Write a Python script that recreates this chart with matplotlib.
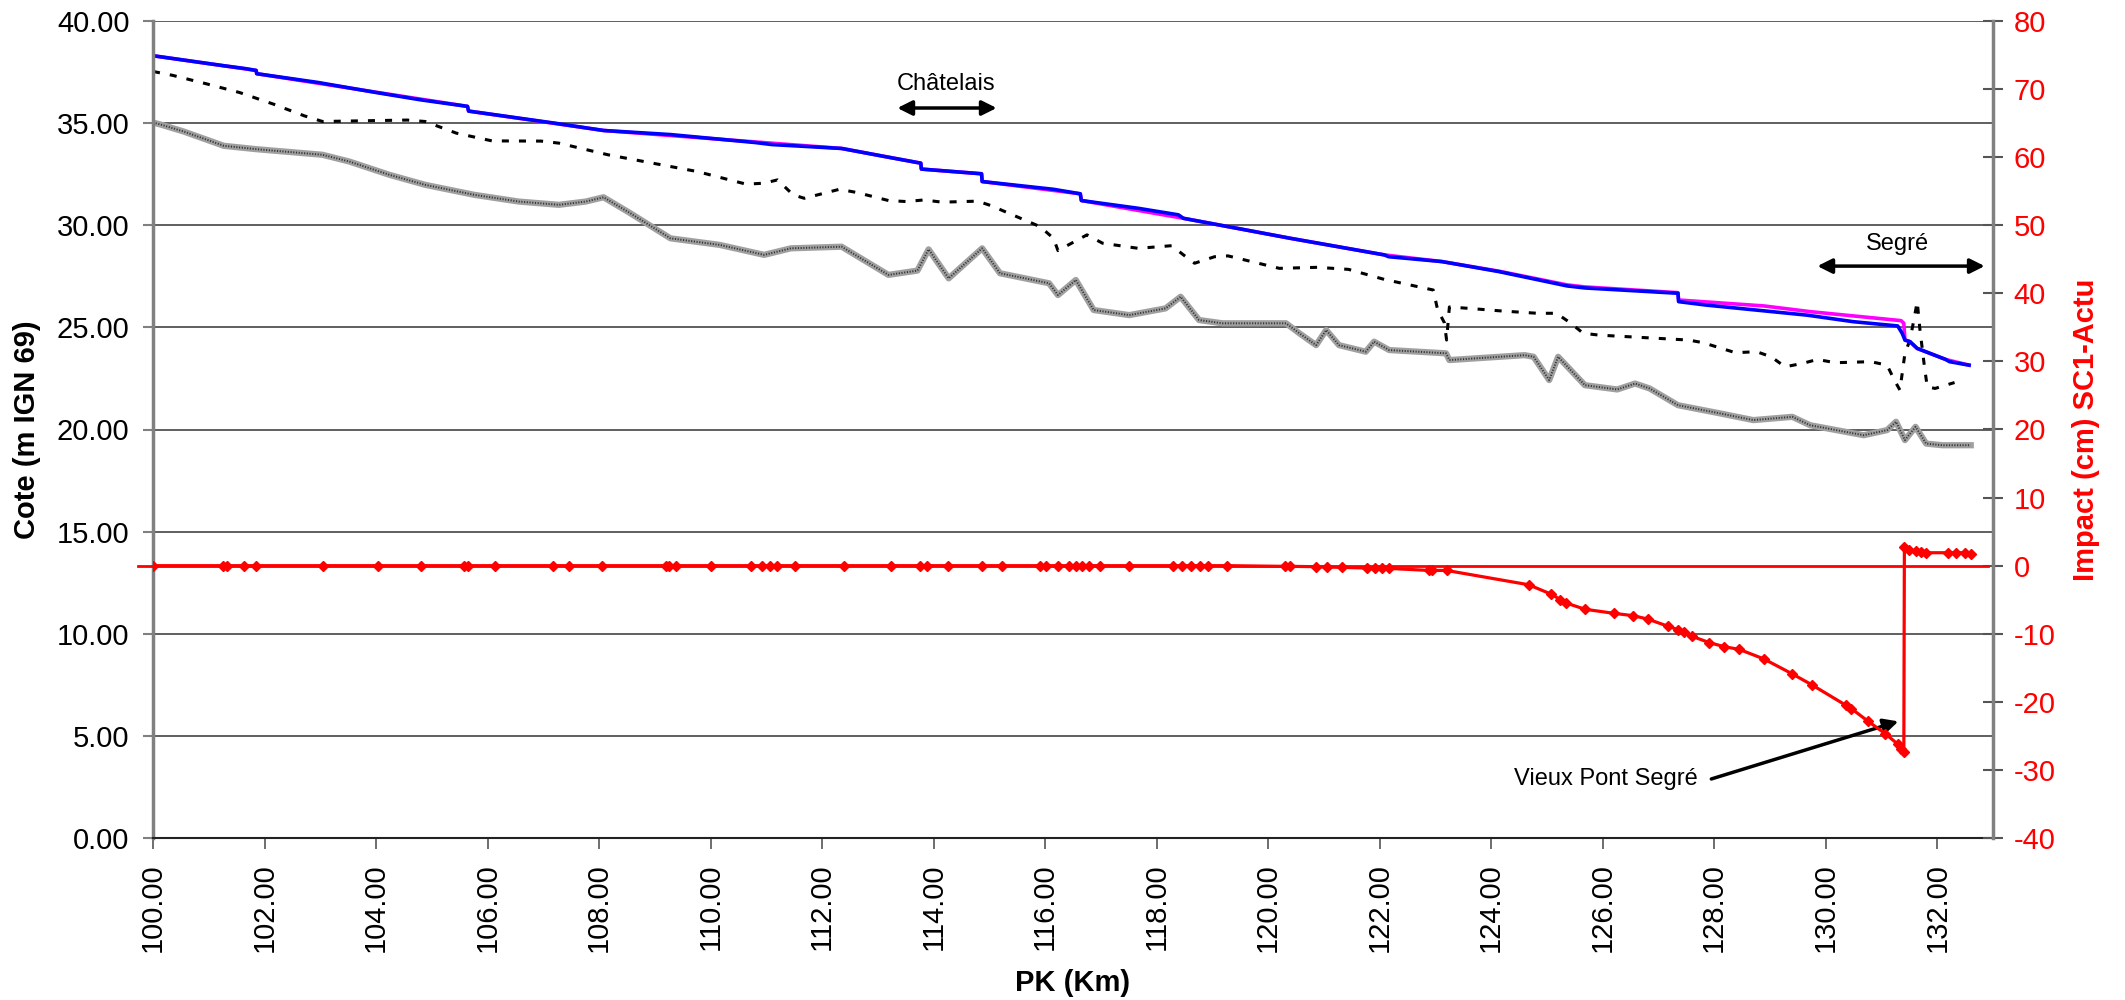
import matplotlib.pyplot as plt
import numpy as np

plt.rcParams['font.family'] = ['Liberation Sans', 'DejaVu Sans']

# PK (km) / cote (m) - ligne bleue
pk_bleu = [100.0, 101.27, 101.63, 101.85, 101.86, 102.96, 104.0, 104.8, 105.64, 105.66,
           107.2, 108.08, 109.28, 110.8, 111.1, 112.35, 113.19, 113.77, 113.78, 114.86,
           114.87, 116.15, 116.63, 116.65, 117.67, 118.39, 118.48, 119.6, 120.4, 122.08,
           122.16, 123.12, 124.14, 125.36, 125.68, 127.35, 127.36, 127.86, 129.66, 130.49,
           131.29, 131.37, 131.42, 131.51, 131.64, 132.15, 132.22, 132.57]
cote_bleu = [38.30, 37.81, 37.68, 37.58, 37.42, 36.99, 36.50, 36.14, 35.82, 35.59,
             35.00, 34.64, 34.44, 34.05, 33.95, 33.76, 33.33, 33.04, 32.75, 32.52,
             32.14, 31.76, 31.54, 31.21, 30.83, 30.51, 30.34, 29.77, 29.36, 28.55,
             28.46, 28.22, 27.73, 27.03, 26.93, 26.67, 26.26, 26.09, 25.60, 25.28,
             25.07, 24.71, 24.38, 24.30, 23.97, 23.43, 23.32, 23.15]

# ligne magenta
pk_mag = [100.0, 101.85, 101.86, 105.64, 105.66, 108.08, 112.35, 113.77, 113.78, 114.86,
          114.87, 116.63, 116.65, 118.48, 120.4, 122.08, 123.12, 124.14, 125.36, 125.68,
          127.35, 127.36, 128.89, 129.72, 131.35, 131.40, 131.42, 131.51, 131.64, 132.15, 132.57]
cote_mag = [38.30, 37.58, 37.42, 35.82, 35.59, 34.64, 33.76, 33.04, 32.75, 32.52,
            32.14, 31.54, 31.21, 30.34, 29.36, 28.55, 28.22, 27.75, 27.08, 26.98,
            26.70, 26.34, 26.05, 25.77, 25.33, 25.20, 24.38, 24.30, 23.97, 23.43, 23.15]

# ligne pointillee noire
pk_pt = [100.0, 100.35, 100.95, 101.55, 102.16, 102.71, 103.04, 103.68, 104.56, 104.88,
         105.44, 106.08, 106.96, 107.28, 108.16, 109.76, 110.64, 110.96, 111.2, 111.48,
         111.68, 112.31, 112.63, 113.19, 113.51, 113.83, 114.15, 114.79, 115.03, 115.91,
         116.15, 116.23, 116.75, 117.03, 117.67, 118.27, 118.48, 118.68, 119.04, 119.28,
         120.2, 120.88, 121.44, 122.08, 122.96, 123.04, 123.16, 123.2, 123.25, 123.6,
         124.2, 124.83, 125.17, 125.43, 125.65, 125.94, 127.54, 127.8, 128.38, 128.76,
         129.02, 129.27, 129.59, 129.85, 130.17, 130.81, 131.1, 131.23, 131.33, 131.42,
         131.51, 131.58, 131.64, 131.69, 131.77, 131.82, 131.96, 132.31]
cote_pt = [37.53, 37.34, 36.93, 36.50, 35.93, 35.36, 35.08, 35.11, 35.15, 35.08,
           34.51, 34.13, 34.12, 34.02, 33.45, 32.63, 32.01, 32.06, 32.22, 31.49,
           31.32, 31.76, 31.60, 31.21, 31.16, 31.24, 31.13, 31.18, 30.96, 29.93,
           29.36, 28.76, 29.53, 29.12, 28.87, 29.00, 28.55, 28.14, 28.46, 28.50,
           27.89, 27.94, 27.84, 27.35, 26.83, 25.85, 25.23, 24.38, 26.00, 25.93,
           25.80, 25.69, 25.69, 25.20, 24.71, 24.62, 24.38, 24.25, 23.76, 23.81,
           23.56, 23.07, 23.24, 23.43, 23.27, 23.32, 23.15, 22.42, 21.93, 23.73,
           24.38, 25.36, 26.26, 24.87, 23.07, 22.09, 22.01, 22.30]

# fond (ligne grise)
pk_fond = [100.0, 100.15, 100.55, 101.27, 101.83, 103.04, 103.52, 104.24, 104.88, 105.76,
           106.56, 107.28, 107.76, 108.08, 108.56, 109.28, 110.16, 110.96, 111.44, 112.35,
           113.19, 113.71, 113.91, 114.27, 114.87, 115.19, 116.07, 116.23, 116.55, 116.87,
           117.51, 118.16, 118.43, 118.76, 119.18, 120.32, 120.56, 120.86, 121.04, 121.27,
           121.75, 121.9, 122.17, 123.19, 123.25, 124.6, 124.76, 125.04, 125.2, 125.68,
           126.26, 126.58, 126.84, 127.35, 128.12, 128.7, 129.4, 129.72, 130.68, 131.1,
           131.26, 131.42, 131.61, 131.8, 132.09, 132.6]
cote_fond = [35.03, 34.92, 34.59, 33.89, 33.73, 33.45, 33.12, 32.47, 31.98, 31.49,
             31.16, 31.00, 31.16, 31.37, 30.59, 29.36, 29.04, 28.55, 28.87, 28.95,
             27.57, 27.78, 28.82, 27.40, 28.87, 27.65, 27.16, 26.58, 27.32, 25.85,
             25.60, 25.93, 26.50, 25.36, 25.20, 25.20, 24.71, 24.13, 24.87, 24.13,
             23.81, 24.30, 23.89, 23.73, 23.40, 23.64, 23.56, 22.42, 23.56, 22.17,
             21.96, 22.25, 22.01, 21.19, 20.78, 20.46, 20.62, 20.21, 19.72, 19.97,
             20.38, 19.48, 20.13, 19.31, 19.23, 19.23]

# impact (cm) SC1-Actu
pk_imp = [100.0, 101.26, 101.33, 101.64, 101.85, 103.05, 104.03, 104.8, 105.57, 105.65,
          106.14, 107.18, 107.46, 108.06, 109.2, 109.25, 109.38, 110.0, 110.72, 110.92,
          111.07, 111.2, 111.52, 112.39, 113.23, 113.75, 113.89, 114.26, 114.87, 115.23,
          115.9, 116.02, 116.23, 116.43, 116.55, 116.66, 116.78, 116.98, 117.51, 118.3,
          118.46, 118.62, 118.78, 118.92, 119.26, 120.3, 120.4, 120.86, 121.06, 121.32,
          121.78, 121.92, 122.05, 122.16, 122.88, 122.94, 123.2, 124.67, 125.08, 125.24,
          125.35, 125.68, 126.2, 126.55, 126.81, 127.17, 127.35, 127.45, 127.61, 127.91,
          128.18, 128.45, 128.89, 129.4, 129.75, 130.36, 130.46, 130.75, 131.07, 131.29,
          131.35, 131.4, 131.41, 131.5, 131.62, 131.71, 131.8, 132.19, 132.34, 132.49, 132.6]
impact = [0, 0, 0, 0, 0, 0, 0, 0, 0, 0,
          0, 0, 0, 0, 0, 0, 0, 0, 0, 0,
          0, 0, 0, 0, 0, 0, 0, 0, 0, 0,
          0, 0, 0, 0, 0, 0, 0, 0, 0, 0,
          0, 0, 0, 0, 0, -0.1, -0.1, -0.15, -0.2, -0.25,
          -0.35, -0.4, -0.4, -0.4, -0.7, -0.7, -0.7, -2.8, -4.2, -5.0,
          -5.5, -6.4, -7.0, -7.35, -7.85, -8.9, -9.4, -9.8, -10.4, -11.3,
          -11.9, -12.3, -13.7, -15.9, -17.5, -20.5, -21.0, -22.8, -24.7, -26.2,
          -27.0, -27.4, 2.7, 2.3, 2.1, 2.0, 1.9, 1.9, 1.9, 1.9, 1.7]

x_ticks = np.arange(100, 133, 2)
y_ticks = np.arange(0, 41, 5)
y2_ticks = np.arange(-40, 81, 10)

fig = plt.figure(figsize=(21.25, 10), dpi=100)
ax1 = fig.add_axes([0.072, 0.162, 0.8659, 0.817])
ax2 = ax1.twinx()

ax1.set_xlim(100, 133)
ax1.set_ylim(0, 40)
ax2.set_ylim(-40, 80)
ax1.set_xticks(x_ticks)
ax1.set_xticklabels([f'{v:.2f}' for v in x_ticks], rotation=90)
ax1.set_yticks(y_ticks)
ax1.set_yticklabels([f'{v:.2f}' for v in y_ticks])
ax2.set_yticks(y2_ticks)
ax2.set_yticklabels([f'{v:d}' for v in y2_ticks])

ax1.yaxis.grid(True, color='#444444', lw=1.2)
ax1.set_axisbelow(True)

# fond : gris texture
ax1.plot(pk_fond, cote_fond, color='#a0a0a0', lw=4.5, solid_joinstyle='round')
ax1.plot(pk_fond, cote_fond, color='#111111', lw=1.4, ls=(0, (0.6, 0.8)), alpha=0.75)
ax1.plot(pk_pt, cote_pt, color='black', lw=2.2, ls=(0, (2.3, 3.3)))
ax1.plot(pk_mag, cote_mag, color='#ff00ff', lw=2.6)
ax1.plot(pk_bleu, cote_bleu, color='#0000ff', lw=2.6)

ax2.axhline(0, xmin=-0.008, xmax=0.997, color='#ff0000', lw=2, clip_on=False)
ax2.plot(pk_imp, impact, color='#ff0000', lw=2.3, marker='D', ms=5.5, mec='#ff0000')

# annotations
ax1.text(114.22, 36.9, 'Châtelais', ha='center', va='center', fontsize=17)
ax1.annotate('', xy=(113.3, 35.74), xytext=(115.18, 35.74),
             arrowprops=dict(arrowstyle='<|-|>', color='black', lw=2.5, mutation_scale=22))
ax1.text(131.29, 29.1, 'Segré', ha='center', va='center', fontsize=17)
ax1.annotate('', xy=(129.8, 28.0), xytext=(132.9, 28.0),
             arrowprops=dict(arrowstyle='<|-|>', color='black', lw=2.5, mutation_scale=22))
ax1.text(126.05, 2.9, 'Vieux Pont Segré', ha='center', va='center', fontsize=17)
ax1.annotate('', xy=(131.35, 5.75), xytext=(127.9, 2.85),
             arrowprops=dict(arrowstyle='-|>', color='black', lw=2.5, mutation_scale=22))

# axes
for s in ['top', 'right']:
    ax1.spines[s].set_visible(False)
ax1.spines['left'].set_color('#808080')
ax1.spines['left'].set_linewidth(2.5)
ax1.spines['bottom'].set_color('#222222')
ax1.spines['bottom'].set_linewidth(1.5)
for s in ['top', 'left', 'bottom']:
    ax2.spines[s].set_visible(False)
ax2.spines['right'].set_color('#808080')
ax2.spines['right'].set_linewidth(2.5)

ax1.tick_params(axis='y', direction='out', length=7, width=1.5, color='#808080',
                labelsize=21, pad=10)
ax1.tick_params(axis='x', direction='out', length=8, width=1.2, color='#555555',
                labelsize=21, pad=10)
ax2.tick_params(axis='y', direction='inout', length=14, width=1.5, color='#555555',
                labelsize=21, labelcolor='#ff0000', pad=8)

ax1.set_ylabel('Cote (m IGN 69)', fontsize=21, fontweight='bold')
ax1.yaxis.set_label_coords(-0.061, 0.5)
ax2.set_ylabel('Impact (cm) SC1-Actu', fontsize=21, fontweight='bold', color='#ff0000')
ax2.yaxis.set_label_coords(1.043, 0.5)
ax1.set_xlabel('PK (Km)', fontsize=21, fontweight='bold')
ax1.xaxis.set_label_coords(0.5, -0.16)

plt.savefig('out.png', dpi=100)
